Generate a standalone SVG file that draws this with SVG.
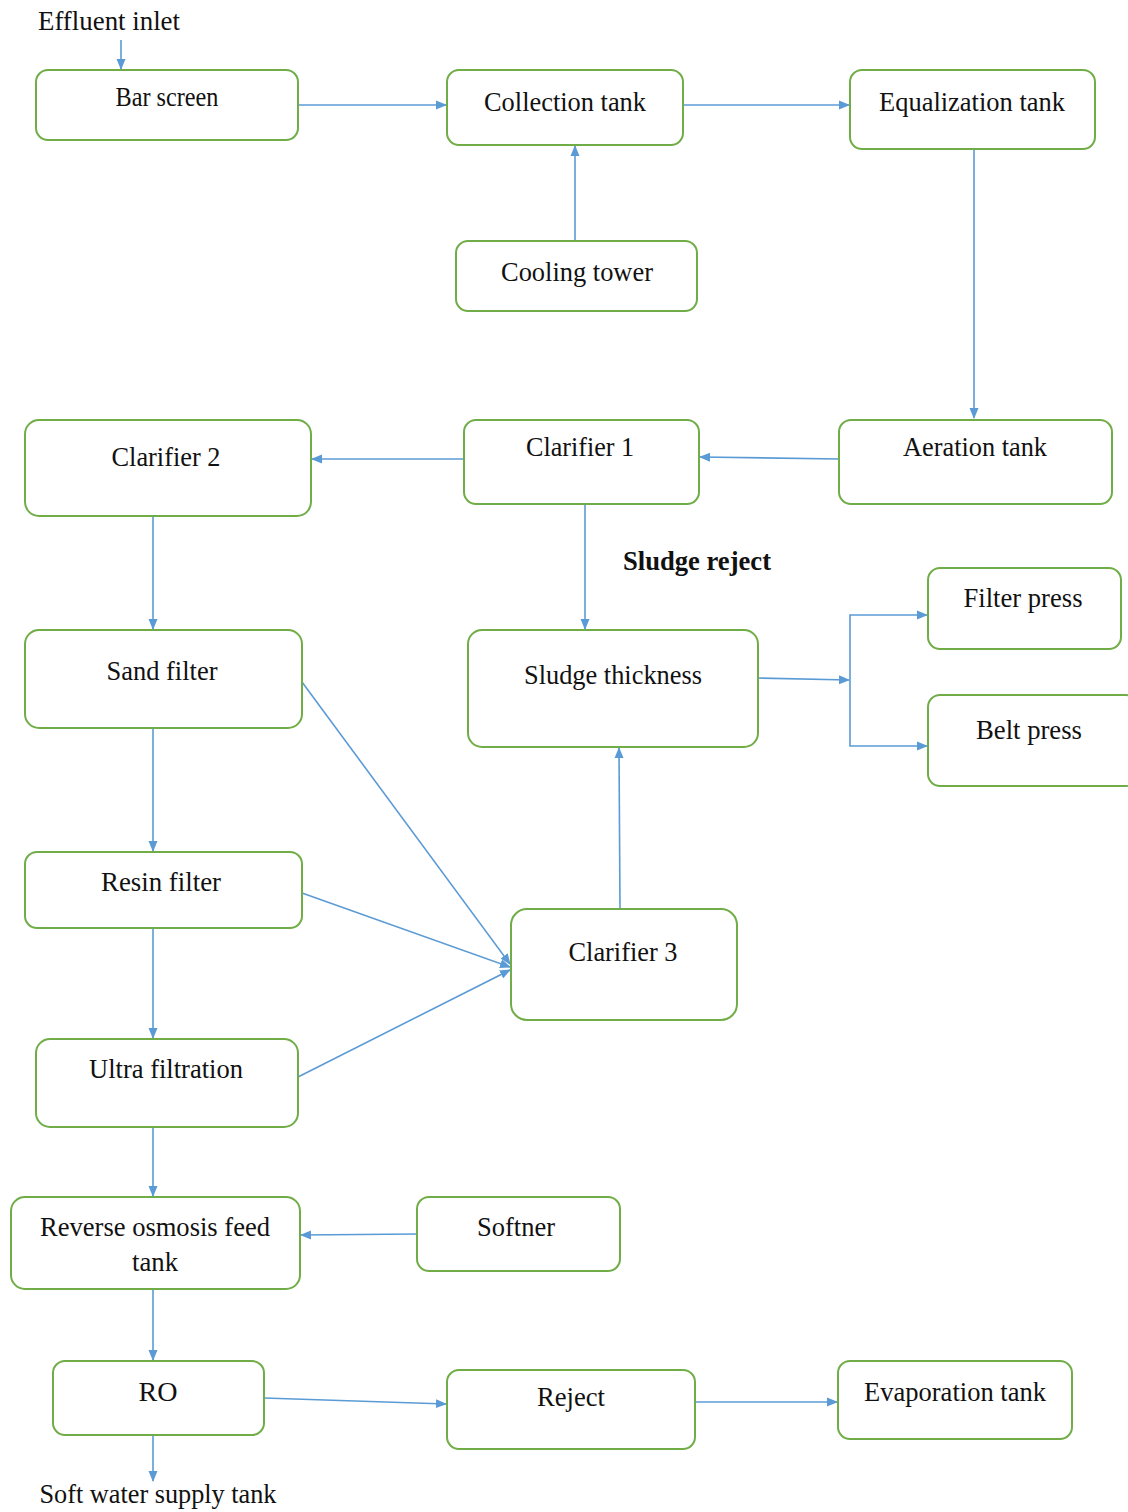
<svg xmlns="http://www.w3.org/2000/svg" width="1128" height="1512" viewBox="0 0 1128 1512">
<style>
.box{fill:#fff;stroke:#70ad47;stroke-width:2}
text{font-family:'Liberation Serif','DejaVu Serif',serif;font-size:27px;fill:#111;text-anchor:middle}
.c{stroke:#5b9bd5;stroke-width:1.6;fill:none}
.a{marker-end:url(#ah)}
</style>
<defs>
<marker id="ah" markerWidth="12" markerHeight="12" refX="10" refY="5.5" orient="auto" markerUnits="userSpaceOnUse">
<path d="M0,1 L11,5.5 L0,10 Z" fill="#5b9bd5"/>
</marker>
</defs>
<rect width="1128" height="1512" fill="#fff"/>
<text x="109" y="30" textLength="142" lengthAdjust="spacingAndGlyphs">Effluent inlet</text>
<text x="697" y="570" textLength="148" lengthAdjust="spacingAndGlyphs" font-weight="bold">Sludge reject</text>
<text x="158" y="1503" textLength="237" lengthAdjust="spacingAndGlyphs">Soft water supply tank</text>

<g id="connectors">
<line class="c a" x1="121" y1="40" x2="121" y2="69"/>
<line class="c a" x1="298" y1="105" x2="446" y2="105"/>
<line class="c a" x1="683" y1="105" x2="849" y2="105"/>
<line class="c a" x1="575" y1="241" x2="575" y2="146"/>
<line class="c a" x1="974" y1="149" x2="974" y2="418"/>
<line class="c a" x1="839" y1="459" x2="700" y2="457"/>
<line class="c a" x1="464" y1="459" x2="312" y2="459"/>
<line class="c a" x1="153" y1="516" x2="153" y2="629"/>
<line class="c a" x1="585" y1="504" x2="585" y2="629"/>
<line class="c a" x1="758" y1="678" x2="849" y2="680"/>
<polyline class="c a" points="850,680 850,615 927,615"/>
<polyline class="c a" points="850,680 850,746 927,746"/>
<line class="c a" x1="153" y1="728" x2="153" y2="851"/>
<line class="c a" x1="620" y1="909" x2="619" y2="748"/>
<line class="c a" x1="302" y1="682" x2="510" y2="964"/>
<line class="c a" x1="302" y1="893" x2="510" y2="967"/>
<line class="c a" x1="298" y1="1077" x2="510" y2="970"/>
<line class="c a" x1="153" y1="928" x2="153" y2="1038"/>
<line class="c a" x1="153" y1="1127" x2="153" y2="1196"/>
<line class="c a" x1="417" y1="1234" x2="301" y2="1235"/>
<line class="c a" x1="153" y1="1289" x2="153" y2="1360"/>
<line class="c a" x1="264" y1="1398" x2="446" y2="1404"/>
<line class="c a" x1="695" y1="1402" x2="837" y2="1402"/>
<line class="c a" x1="153" y1="1435" x2="153" y2="1481"/>
</g>

<g id="bar-screen"><rect class="box" x="36" y="70" width="262" height="70" rx="12"/><text x="167" y="106" font-size="24" textLength="103" lengthAdjust="spacingAndGlyphs">Bar screen</text></g>
<g id="collection-tank"><rect class="box" x="447" y="70" width="236" height="75" rx="12"/><text x="565" y="111" textLength="162" lengthAdjust="spacingAndGlyphs">Collection tank</text></g>
<g id="equalization-tank"><rect class="box" x="850" y="70" width="245" height="79" rx="12"/><text x="972" y="111" textLength="186" lengthAdjust="spacingAndGlyphs">Equalization tank</text></g>
<g id="cooling-tower"><rect class="box" x="456" y="241" width="241" height="70" rx="12"/><text x="577" y="281" textLength="152" lengthAdjust="spacingAndGlyphs">Cooling tower</text></g>
<g id="aeration-tank"><rect class="box" x="839" y="420" width="273" height="84" rx="12"/><text x="975" y="456" textLength="144" lengthAdjust="spacingAndGlyphs">Aeration tank</text></g>
<g id="clarifier-1"><rect class="box" x="464" y="420" width="235" height="84" rx="12"/><text x="580" y="456" textLength="108" lengthAdjust="spacingAndGlyphs">Clarifier 1</text></g>
<g id="clarifier-2"><rect class="box" x="25" y="420" width="286" height="96" rx="14"/><text x="166" y="466" textLength="109" lengthAdjust="spacingAndGlyphs">Clarifier 2</text></g>
<g id="sand-filter"><rect class="box" x="25" y="630" width="277" height="98" rx="14"/><text x="162" y="680" textLength="111" lengthAdjust="spacingAndGlyphs">Sand filter</text></g>
<g id="sludge-thickness"><rect class="box" x="468" y="630" width="290" height="117" rx="14"/><text x="613" y="684" textLength="178" lengthAdjust="spacingAndGlyphs">Sludge thickness</text></g>
<g id="filter-press"><rect class="box" x="928" y="568" width="193" height="81" rx="12"/><text x="1023" y="607" textLength="119" lengthAdjust="spacingAndGlyphs">Filter press</text></g>
<g id="belt-press"><rect class="box" x="928" y="695" width="210" height="91" rx="12"/><text x="1029" y="739" textLength="106" lengthAdjust="spacingAndGlyphs">Belt press</text></g>
<g id="resin-filter"><rect class="box" x="25" y="852" width="277" height="76" rx="12"/><text x="161" y="891" textLength="120" lengthAdjust="spacingAndGlyphs">Resin filter</text></g>
<g id="clarifier-3"><rect class="box" x="511" y="909" width="226" height="111" rx="16"/><text x="623" y="961" textLength="109" lengthAdjust="spacingAndGlyphs">Clarifier 3</text></g>
<g id="ultra-filtration"><rect class="box" x="36" y="1039" width="262" height="88" rx="14"/><text x="166" y="1078" textLength="154" lengthAdjust="spacingAndGlyphs">Ultra filtration</text></g>
<g id="ro-feed-tank"><rect class="box" x="11" y="1197" width="289" height="92" rx="14"/><text x="155" y="1236" textLength="230" lengthAdjust="spacingAndGlyphs">Reverse osmosis feed</text><text x="155" y="1271" textLength="46" lengthAdjust="spacingAndGlyphs">tank</text></g>
<g id="softner"><rect class="box" x="417" y="1197" width="203" height="74" rx="12"/><text x="516" y="1236" textLength="78" lengthAdjust="spacingAndGlyphs">Softner</text></g>
<g id="ro"><rect class="box" x="53" y="1361" width="211" height="74" rx="12"/><text x="158" y="1401" textLength="39" lengthAdjust="spacingAndGlyphs">RO</text></g>
<g id="reject"><rect class="box" x="447" y="1370" width="248" height="79" rx="12"/><text x="571" y="1406" textLength="68" lengthAdjust="spacingAndGlyphs">Reject</text></g>
<g id="evaporation-tank"><rect class="box" x="838" y="1361" width="234" height="78" rx="12"/><text x="955" y="1401" textLength="182" lengthAdjust="spacingAndGlyphs">Evaporation tank</text></g>
</svg>
